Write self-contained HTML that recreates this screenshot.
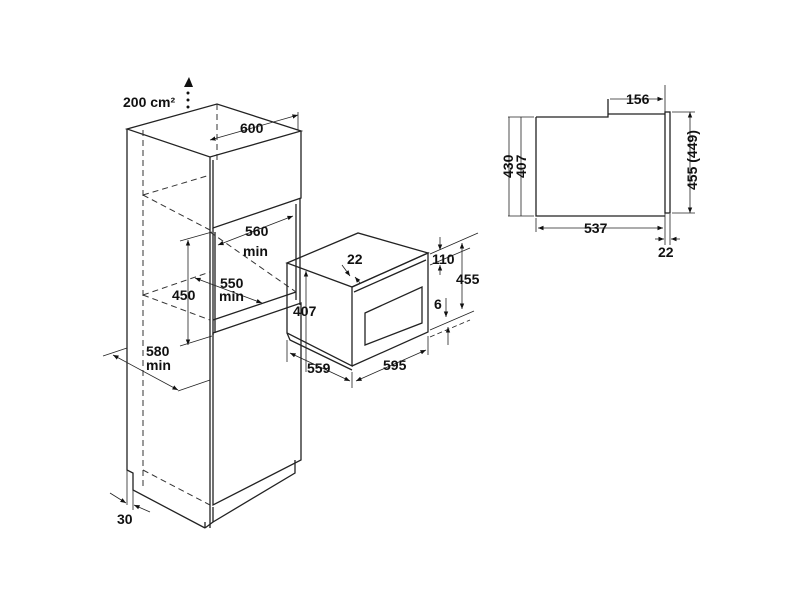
<!DOCTYPE html>
<html><head><meta charset="utf-8"><style>
html,body{margin:0;padding:0;background:#fff;}
svg{display:block}
text{font-family:"Liberation Sans",Arial,sans-serif;font-weight:bold;font-size:14px;fill:#111}
</style></head><body>
<svg width="800" height="600" viewBox="0 0 800 600" xmlns="http://www.w3.org/2000/svg">
<defs>
<marker id="a" viewBox="0 0 10 10" refX="10" refY="5" markerWidth="7" markerHeight="7" orient="auto-start-reverse"><path d="M0,1 L10,5 L0,9 z" fill="#111"/></marker>
</defs>
<g stroke="#222" stroke-width="1.3" fill="none">
<path d="M127,129 L217,104 L301,131 L210,157 Z"/>
<path d="M127,129 L127,470 L133,473 L133,490 L205,528"/>
<path d="M210,157 L210,528 M205,528 L205,522"/>
<path d="M213,160 L213,228 L301,198 L301,131"/>
<path d="M213,228 L213,335 M215,232 L215,333"/>
<path d="M296,204 L296,300 M300,198 L300,305"/>
<path d="M213,333 L301,303 L301,460 L213,505 Z"/>
<path d="M213,507 L213,522 L295,473 L295,460"/>
<path d="M205,528 L213,522"/>
<path d="M213,320 L296,292"/>
</g>
<g stroke="#333" stroke-width="1" fill="none" stroke-dasharray="6,4">
<path d="M143,130 L143,486"/>
<path d="M217,104 L217,160"/>
<path d="M143,195 L210,230 M143,195 L210,175"/>
<path d="M143,295 L210,320 M143,295 L210,272"/>
<path d="M143,470 L210,505"/>
<path d="M210,232 L296,292"/>
</g>
<path d="M189,77 L184,87 L193,87 Z" fill="#111"/>
<circle cx="188" cy="93" r="1.5" fill="#111"/><circle cx="188" cy="100" r="1.5" fill="#111"/><circle cx="188" cy="107" r="1.5" fill="#111"/>
<text x="123" y="107">200 cm²</text>
<g stroke="#222" stroke-width="0.8" fill="none">
<line x1="210" y1="140" x2="298" y2="115" marker-start="url(#a)" marker-end="url(#a)"/>
<line x1="298" y1="112" x2="298" y2="130"/>
<line x1="218" y1="245" x2="293" y2="216" marker-start="url(#a)" marker-end="url(#a)"/>
<line x1="188" y1="240" x2="188" y2="345" marker-start="url(#a)" marker-end="url(#a)"/>
<line x1="180" y1="241" x2="212" y2="232"/>
<line x1="180" y1="346" x2="212" y2="336"/>
<line x1="195" y1="278" x2="262" y2="303" marker-start="url(#a)" marker-end="url(#a)"/>
<line x1="113" y1="355" x2="178" y2="390" marker-start="url(#a)" marker-end="url(#a)"/>
<line x1="103" y1="356" x2="127" y2="348"/>
<line x1="178" y1="391" x2="210" y2="380"/>
<line x1="110" y1="493" x2="126" y2="503" marker-end="url(#a)"/>
<line x1="150" y1="512" x2="134" y2="505" marker-end="url(#a)"/>
<line x1="133" y1="490" x2="133" y2="510"/><line x1="127" y1="470" x2="127" y2="505"/>
</g>
<text x="240" y="133">600</text>
<text x="245" y="236">560</text><text x="243" y="256">min</text>
<text x="220" y="288">550</text><text x="219" y="301">min</text>
<text x="172" y="300">450</text>
<text x="146" y="356">580</text><text x="146" y="370">min</text>
<text x="117" y="524">30</text>
<g stroke="#222" stroke-width="1.3" fill="none">
<path d="M287,263 L358,233 L428,253 L352,287 Z"/>
<path d="M287,263 L287,333 L352,366 L352,287"/>
<path d="M352,287 L428,253 L428,332 L352,366"/>
<path d="M354,292 L426,260"/>
<path d="M365,313 L422,287 L422,323 L365,345 Z"/>
<path d="M287,333 L290,340 L352,370"/>
</g>
<g stroke="#222" stroke-width="0.8" fill="none">
<line x1="306" y1="271" x2="306" y2="372" marker-start="url(#a)"/>
<line x1="342" y1="265" x2="350" y2="276" marker-end="url(#a)"/>
<line x1="360" y1="283" x2="355" y2="277" marker-end="url(#a)"/>
<line x1="290" y1="353" x2="350" y2="381" marker-start="url(#a)" marker-end="url(#a)"/>
<line x1="356" y1="381" x2="426" y2="350" marker-start="url(#a)" marker-end="url(#a)"/>
<line x1="352" y1="372" x2="352" y2="388"/><line x1="287" y1="340" x2="287" y2="362"/><line x1="428" y1="336" x2="428" y2="355"/>
<line x1="440" y1="237" x2="440" y2="250" marker-end="url(#a)"/>
<line x1="440" y1="275" x2="440" y2="265" marker-end="url(#a)"/>
<line x1="430" y1="254" x2="478" y2="233"/>
<line x1="430" y1="265" x2="470" y2="248"/>
<line x1="462" y1="243" x2="462" y2="309" marker-start="url(#a)" marker-end="url(#a)"/>
<line x1="446" y1="298" x2="446" y2="317" marker-end="url(#a)"/>
<line x1="448" y1="345" x2="448" y2="327" marker-end="url(#a)"/>
<line x1="430" y1="330" x2="474" y2="311"/>
<line x1="430" y1="337" x2="470" y2="320" stroke-dasharray="5,3"/>
</g>
<text x="347" y="264">22</text>
<text x="293" y="316">407</text>
<text x="307" y="373">559</text>
<text x="383" y="370">595</text>
<text x="432" y="264">110</text>
<text x="456" y="284">455</text>
<text x="434" y="309">6</text>
<g stroke="#222" stroke-width="1.3" fill="none">
<path d="M536,117 L536,216 L665,216 M536,117 L608,117 L608,99"/>
<path d="M608,114 L665,114"/>
<rect x="665" y="112" width="5" height="101"/>
</g>
<g stroke="#222" stroke-width="0.8" fill="none">
<line x1="610" y1="99" x2="663" y2="99" marker-end="url(#a)"/>
<line x1="665" y1="85" x2="665" y2="245"/>
<line x1="508" y1="117" x2="534" y2="117"/><line x1="508" y1="216" x2="534" y2="216"/>
<line x1="509" y1="117" x2="509" y2="216"/>
<line x1="521" y1="117" x2="521" y2="216"/>
<line x1="690" y1="112" x2="690" y2="213" marker-start="url(#a)" marker-end="url(#a)"/>
<line x1="672" y1="112" x2="695" y2="112"/><line x1="672" y1="213" x2="695" y2="213"/>
<line x1="538" y1="228" x2="663" y2="228" marker-start="url(#a)" marker-end="url(#a)"/>
<line x1="536" y1="218" x2="536" y2="232"/>
<line x1="655" y1="239" x2="664" y2="239" marker-end="url(#a)"/>
<line x1="680" y1="239" x2="671" y2="239" marker-end="url(#a)"/>
<line x1="670" y1="214" x2="670" y2="245"/>
</g>
<text x="626" y="104">156</text>
<text x="584" y="233">537</text>
<text x="658" y="257">22</text>
<text transform="translate(513,178) rotate(-90)">430</text>
<text transform="translate(526,178) rotate(-90)">407</text>
<text transform="translate(697,190) rotate(-90)">455 (449)</text>
</svg>
</body></html>
